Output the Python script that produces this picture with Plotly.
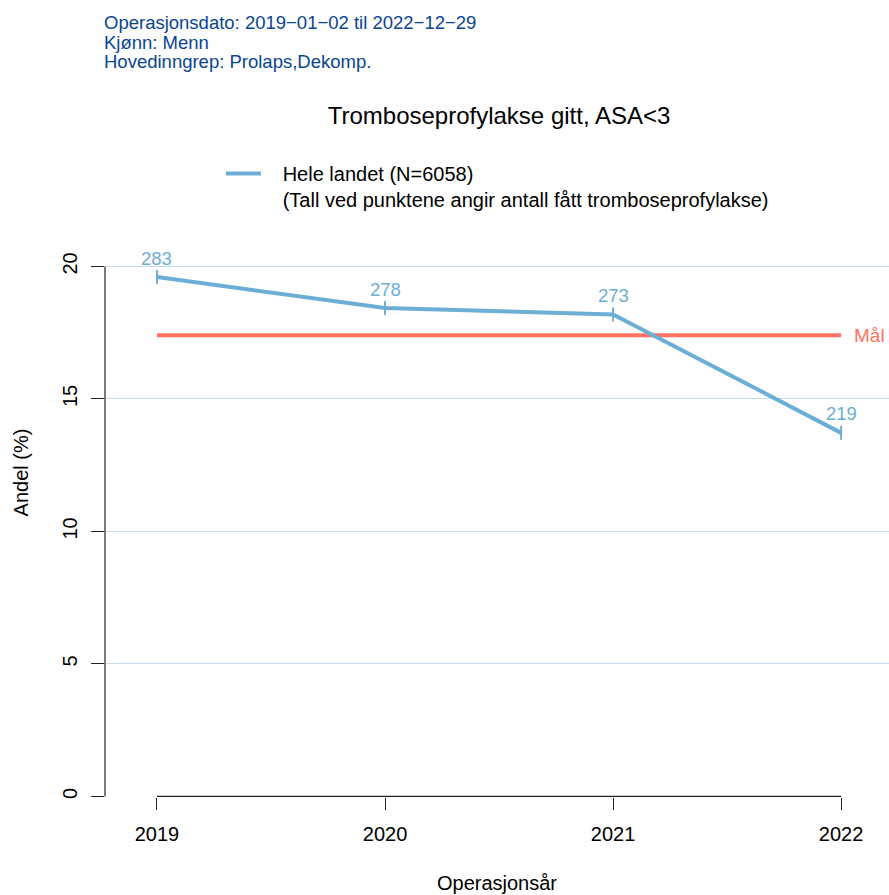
import plotly.graph_objects as go

# ---- data ----
years = [2019, 2020, 2021, 2022]
andel = [19.6, 18.43, 18.19, 13.72]
antall = [283, 278, 273, 219]
maal = 17.4
y_ticks = [0, 5, 10, 15, 20]
info_lines = ["Operasjonsdato: 2019\u221201\u221202 til 2022\u221212\u221229",
              "Kjønn: Menn",
              "Hovedinngrep: Prolaps,Dekomp."]
title_text = "Tromboseprofylakse gitt, ASA<3"
legend_lines = ["Hele landet (N=6058)",
                "(Tall ved punktene angir antall fått tromboseprofylakse)"]
x_title = "Operasjonsår"
y_title = "Andel (%)"

LINE = "#6BAED6"
GRID = "#C6DBEF"
MAAL = "#FF7260"
INFO = "#084594"
FONT = "Liberation Sans, Arial, sans-serif"

PAD = "\u00a0\u00a0\u00a0"
legend_name = "<br>".join(PAD + s for s in legend_lines)

fig = go.Figure()

# target line
fig.add_trace(go.Scatter(x=[years[0], years[-1]], y=[maal, maal], mode="lines",
                         line=dict(color=MAAL, width=4), showlegend=False, hoverinfo="skip"))

# main series
fig.add_trace(go.Scatter(x=years, y=andel, mode="lines+markers", name=legend_lines[0],
                         showlegend=False,
                         line=dict(color=LINE, width=4),
                         marker=dict(symbol="line-ns", size=10, color=LINE,
                                     line=dict(color=LINE, width=2))))
# legend entry (line only)
fig.add_trace(go.Scatter(x=[None], y=[None], mode="lines", name=legend_name,
                         line=dict(color=LINE, width=4), showlegend=True))

# count labels
for xv, yv, n in zip(years, andel, antall):
    fig.add_annotation(x=xv, y=yv, text=str(n), showarrow=False, yshift=19,
                       yanchor="middle", font=dict(size=18.5, color=LINE, family=FONT))

fig.add_annotation(x=years[-1], y=maal, text="Mål", showarrow=False, xanchor="left",
                   xshift=11, yanchor="middle", font=dict(size=19, color=MAAL, family=FONT))

# info text top-left
for i, t in enumerate(info_lines):
    fig.add_annotation(xref="paper", yref="paper", x=0, y=1 + (148 - (23 + 19.3 * i)) / 649,
                       text=t, showarrow=False, xanchor="left", yanchor="middle", xshift=-3,
                       font=dict(size=18.5, color=INFO, family=FONT))

# axis lines (R style, only across data range)
fig.add_shape(type="line", xref="x", yref="y", x0=years[0], x1=years[-1], y0=0, y1=0,
              line=dict(color="#222222", width=1.2))
fig.add_shape(type="line", xref="paper", yref="y", x0=0, x1=0, y0=y_ticks[0], y1=y_ticks[-1],
              line=dict(color="#222222", width=1.2))

fig.update_layout(
    width=889, height=895,
    margin=dict(l=105, r=0, t=148, b=98),
    paper_bgcolor="white", plot_bgcolor="white",
    font=dict(family=FONT, color="black", size=20),
    title=dict(text=title_text, x=(499) / 889, xanchor="center", xref="container",
               y=1 - 116 / 895, yanchor="middle", yref="container",
               font=dict(size=24, family=FONT, color="black")),
    showlegend=True,
    legend=dict(x=(221 - 105) / 784, xanchor="left", y=1 - 6 / 649, yanchor="top",
                valign="top", itemwidth=35,
                font=dict(size=20, family=FONT, color="black"),
                bgcolor="rgba(0,0,0,0)"),
    xaxis=dict(range=[2018.772, 2022.21], tickvals=years, ticktext=[str(y) for y in years],
               showgrid=False, zeroline=False, showline=False,
               ticks="outside", ticklen=12, tickcolor="#222222", tickwidth=1.2,
               ticklabelstandoff=7,
               tickfont=dict(size=20, family=FONT, color="black"),
               title=dict(text=x_title, standoff=31, font=dict(size=20, family=FONT, color="black"))),
    yaxis=dict(range=[-0.02, 24.47], tickvals=y_ticks, ticktext=[str(v) for v in y_ticks],
               showgrid=True, gridcolor=GRID, gridwidth=1, zeroline=False, showline=False,
               ticks="outside", ticklen=13, tickcolor="#222222", tickwidth=1.2,
               tickangle=-90, ticklabelstandoff=6,
               tickfont=dict(size=20, family=FONT, color="black"),
               title=dict(text=y_title, standoff=25, font=dict(size=20, family=FONT, color="black"))),
)

fig.write_html("out.html", config={"displayModeBar": False},
               post_script="document.body.style.margin='0';document.body.style.padding='0';")
